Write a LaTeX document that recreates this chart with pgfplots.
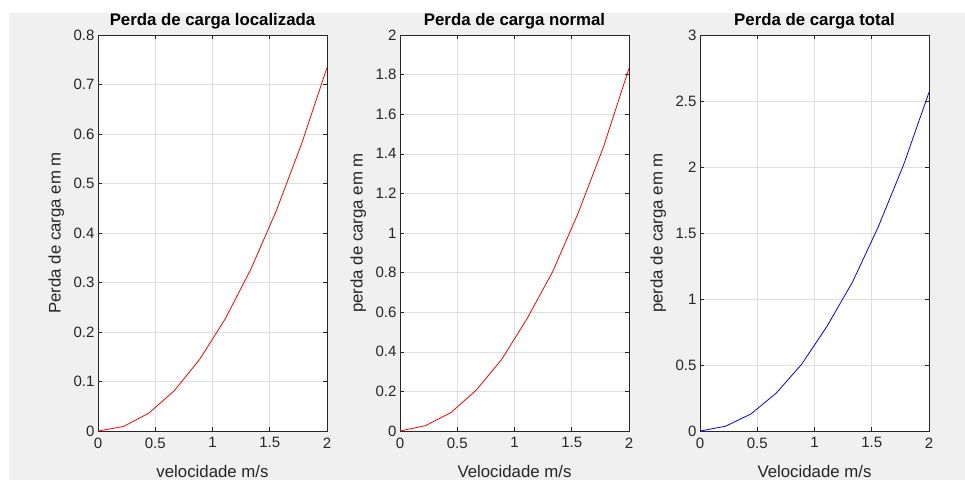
\documentclass[border=0pt]{standalone}
\usepackage{pgfplots}
\pgfplotsset{compat=1.18}
\usepackage{fontspec}
\setmainfont{Liberation Sans}
\definecolor{figbg}{HTML}{F0F0F0}
\definecolor{axcol}{HTML}{262626}
\definecolor{gridcol}{HTML}{DFDFDF}

\pgfplotsset{
  mlab/.style={
    scale only axis, width=229pt, height=396pt,
    xmin=0, xmax=2, ymin=0,
    xtick={0,0.5,...,2},
    axis background/.style={fill=white},
    axis line style={axcol, line width=0.7pt},
    grid=major, major grid style={gridcol, line width=0.6pt},
    tick align=inside, tick style={axcol, line width=0.6pt}, major tick length=4pt,
    /pgf/number format/assume math mode=true,
    /pgf/number format/fixed,
    ticklabel style={font=\fontsize{15}{17}\selectfont, text=axcol},
    xticklabel style={yshift=-3pt},
    every axis x label/.style={at={(axis description cs:0.5,-0.102)}, anchor=center,
      font=\fontsize{16.8}{18}\selectfont, text=axcol},
    every axis y label/.style={at={(axis description cs:-0.182,0.5)}, rotate=90, anchor=center,
      font=\fontsize{16.8}{18}\selectfont, text=axcol},
    every axis title/.style={font=\fontsize{16.8}{19}\selectfont\bfseries, text=black,
      at={(axis description cs:0.5,1.035)}, anchor=center},
  }
}

\begin{document}
\begin{tikzpicture}
\fill[white] (0,0) rectangle (965pt,-480pt);
\fill[figbg] (9pt,-13pt) rectangle (965pt,-480pt);
\useasboundingbox (0,0) rectangle (965pt,-480pt);

\begin{axis}[mlab, at={(98pt,-431pt)}, anchor=south west,
  ymax=0.8, ytick={0,0.1,...,0.8},
  title={Perda de carga localizada},
  xlabel={velocidade m/s}, ylabel={Perda de carga em m}]
\addplot[red, line width=0.8pt] coordinates {
(0,0) (0.2222,0.0091) (0.4444,0.0362) (0.6667,0.0815) (0.8889,0.1450)
(1.1111,0.2264) (1.3333,0.3260) (1.5556,0.4440) (1.7778,0.5800) (2,0.7340)};
\end{axis}

\begin{axis}[mlab, at={(400pt,-431pt)}, anchor=south west,
  ymax=2, ytick={0,0.2,...,2.01},
  title={Perda de carga normal},
  xlabel={Velocidade m/s}, ylabel={perda de carga em m}]
\addplot[red, line width=0.8pt] coordinates {
(0,0) (0.2222,0.027) (0.4444,0.093) (0.6667,0.207) (0.8889,0.362)
(1.1111,0.569) (1.3333,0.805) (1.5556,1.100) (1.7778,1.436) (2,1.832)};
\end{axis}

\begin{axis}[mlab, at={(700pt,-431pt)}, anchor=south west,
  ymax=3, ytick={0,0.5,...,3},
  title={Perda de carga total},
  xlabel={Velocidade m/s}, ylabel={perda de carga em m}]
\addplot[blue, line width=0.8pt] coordinates {
(0,0) (0.2222,0.036) (0.4444,0.129) (0.6667,0.288) (0.8889,0.507)
(1.1111,0.796) (1.3333,1.131) (1.5556,1.544) (1.7778,2.016) (2,2.566)};
\end{axis}
\end{tikzpicture}
\end{document}
